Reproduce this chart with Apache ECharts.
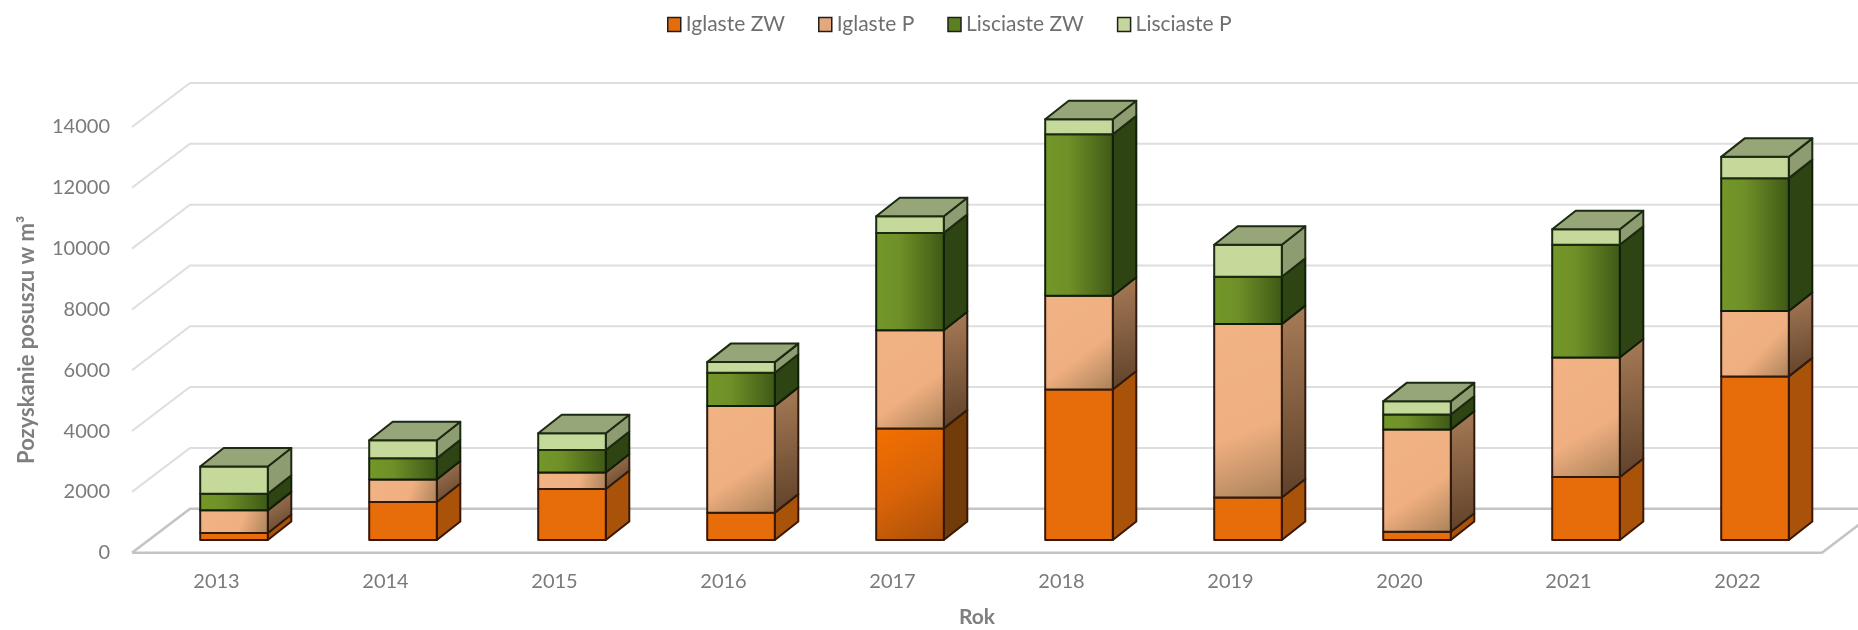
<!DOCTYPE html>
<html>
<head>
<meta charset="utf-8">
<script src="https://cdn.jsdelivr.net/npm/echarts@6/dist/echarts.min.js"></script>
<style>
html, body { margin: 0; background: #fff; }
#chart { width: 1858px; height: 630px; }
</style>
</head>
<body>
<div id="chart"></div>
<script>
var years = ['2013', '2014', '2015', '2016', '2017', '2018', '2019', '2020', '2021', '2022'];
var seriesNames = ['Iglaste ZW', 'Iglaste P', 'Lisciaste ZW', 'Lisciaste P'];
var iglasteZW = [230, 1250, 1680, 900, 3670, 4950, 1400, 270, 2070, 5380];
var iglasteP = [745, 740, 540, 3510, 3230, 3080, 5700, 3360, 3930, 2150];
var lisciasteZW = [545, 700, 740, 1090, 3200, 5315, 1560, 500, 3710, 4370];
var lisciasteP = [900, 590, 550, 350, 550, 495, 1050, 430, 510, 700];
var wallTicks = [0, 2000, 4000, 6000, 8000, 10000, 12000, 14000];

// depth of the fake 3d box, in pixels
var WALL_DX = 58, WALL_DY = 44;
var BAR_DX = 23.5, BAR_DY = 18.5;
var GAP_DX = 17.5, GAP_DY = 12.7;
var BAR_RATIO = 0.4;

function grad(x2, y2, stops) {
    return {
        type: 'linear', x: 0, y: 0, x2: x2, y2: y2,
        colorStops: stops.map(function (s) { return { offset: s[0], color: s[1] }; })
    };
}

var styles = [
    {
        legend: '#E46C0A', edge: '#3A1705',
        front: '#E66D0A',
        side: '#A8520A'
    },
    {
        legend: '#E3A87C', edge: '#2E1A0E',
        front: grad(1, 1, [[0, '#F2B384'], [0.6, '#EFAF80'], [1, '#A98159']]),
        side: grad(1, 1, [[0, '#A87C58'], [1, '#5E4028']])
    },
    {
        legend: '#5C8020', edge: '#101E08',
        front: grad(1, 0, [[0, '#739728'], [0.35, '#6F9028'], [1, '#3E5815']]),
        side: '#2E4412'
    },
    {
        legend: '#C3D69B', edge: '#1B2A10',
        front: '#C5D99B',
        side: '#8E9C72',
        top: '#97A678'
    }
];
// 2017 orange is shaded in the original
var orange2017 = {
    front: grad(1, 1, [[0, '#F57000'], [0.5, '#D96408'], [1, '#A94F08']]),
    side: '#713B0A'
};

function makeBarItem(layer) {
    return function (params, api) {
        var idx = api.value(0);
        var low = api.coord([idx, api.value(1)]);
        var high = api.coord([idx, api.value(2)]);
        var w = api.size([1, 0])[0] * BAR_RATIO;
        var x0 = low[0] + GAP_DX - w / 2;
        var x1 = x0 + w;
        var yb = low[1] - GAP_DY;
        var yt = high[1] - GAP_DY;
        var st = styles[layer];
        var front = st.front, side = st.side;
        if (layer === 0 && years[idx] === '2017') {
            front = orange2017.front;
            side = orange2017.side;
        }
        var lineStyle = { stroke: st.edge, lineWidth: 2, lineJoin: 'round' };
        var kids = [
            {
                type: 'polygon',
                shape: { points: [[x1, yb], [x1 + BAR_DX, yb - BAR_DY], [x1 + BAR_DX, yt - BAR_DY], [x1, yt]] },
                style: Object.assign({ fill: side }, lineStyle)
            },
            {
                type: 'polygon',
                shape: { points: [[x0, yb], [x1, yb], [x1, yt], [x0, yt]] },
                style: Object.assign({ fill: front }, lineStyle)
            }
        ];
        if (st.top) {
            kids.push({
                type: 'polygon',
                shape: { points: [[x0, yt], [x1, yt], [x1 + BAR_DX, yt - BAR_DY], [x0 + BAR_DX, yt - BAR_DY]] },
                style: Object.assign({ fill: st.top }, lineStyle)
            });
        }
        return { type: 'group', children: kids };
    };
}

function renderWall(params, api) {
    var tick = api.value(1);
    var rect = params.coordSys;
    var y = api.coord([0, tick])[1];
    var left = rect.x, right = rect.x + rect.width;
    var isFloor = tick === 0;
    var st = { stroke: isFloor ? '#C4C4C4' : '#DEDEDE', lineWidth: isFloor ? 2.6 : 2, fill: 'none' };
    var kids = [
        {
            type: 'polyline',
            shape: { points: [[left, y], [left + WALL_DX, y - WALL_DY], [right + WALL_DX, y - WALL_DY]] },
            style: st
        }
    ];
    if (isFloor) {
        kids.push({
            type: 'polyline',
            shape: { points: [[left, y], [right, y], [right + WALL_DX, y - WALL_DY]] },
            style: st
        });
    }
    return { type: 'group', children: kids };
}

var layers = [iglasteZW, iglasteP, lisciasteZW, lisciasteP];
var running = years.map(function () { return 0; });
var series = [{
    type: 'custom',
    name: 'sciana',
    silent: true,
    z: 1,
    renderItem: renderWall,
    encode: { x: 0, y: 1 },
    data: wallTicks.map(function (t) { return [0, t]; })
}];
layers.forEach(function (values, layer) {
    series.push({
        type: 'custom',
        name: seriesNames[layer],
        z: 2 + layer,
        renderItem: makeBarItem(layer),
        encode: { x: 0, y: [1, 2] },
        itemStyle: { color: styles[layer].legend },
        data: values.map(function (v, i) {
            var item = [i, running[i], running[i] + v];
            running[i] += v;
            return item;
        })
    });
});

var textFont = 'Lato';
var option = {
    animation: false,
    backgroundColor: '#fff',
    legend: {
        top: 14,
        left: 667,
        padding: 0,
        itemWidth: 13,
        itemHeight: 14,
        itemGap: 33,
        icon: 'rect',
        textStyle: { fontFamily: textFont, fontSize: 21, color: '#6F6F6F' },
        data: seriesNames.map(function (n, i) {
            return { name: n, itemStyle: { color: styles[i].legend, borderColor: '#1E1E1E', borderWidth: 1.5 } };
        })
    },
    // v6 shrinks the grid to fit the axis names unless this is off
    grid: { left: 132, top: 127, width: 1690, height: 425.7, outerBoundsMode: 'none' },
    xAxis: {
        type: 'category',
        data: years,
        name: 'Rok',
        nameLocation: 'middle',
        nameGap: 54,
        nameTextStyle: { fontFamily: textFont, fontSize: 21, fontWeight: 'bold', color: '#7F7F7F' },
        axisLine: { show: false },
        axisTick: { show: false },
        axisLabel: { fontFamily: textFont, fontSize: 20, color: '#7A7A7A', margin: 19 }
    },
    yAxis: {
        type: 'value',
        min: 0,
        max: 14000,
        interval: 2000,
        name: 'Pozyskanie posuszu w m³',
        nameLocation: 'middle',
        nameGap: 94,
        nameTextStyle: { fontFamily: textFont, fontSize: 22, fontWeight: 'bold', color: '#7F7F7F' },
        axisLine: { show: false },
        axisTick: { show: false },
        splitLine: { show: false },
        axisLabel: {
            fontFamily: textFont, fontSize: 20, color: '#7A7A7A', margin: 22,
            formatter: function (v) { return String(v); }
        }
    },
    series: series
};

var chart = echarts.init(document.getElementById('chart'), null, { renderer: 'canvas' });
chart.setOption(option);
</script>
</body>
</html>
